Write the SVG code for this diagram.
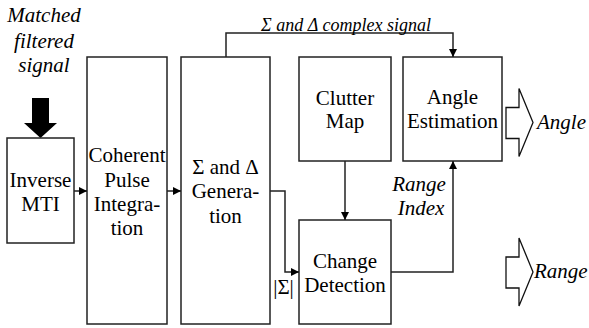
<svg xmlns="http://www.w3.org/2000/svg" width="589" height="328" viewBox="0 0 589 328">
<style>
.box{fill:#fff;stroke:#222;stroke-width:1.5}
.ln{fill:none;stroke:#222;stroke-width:1.5}
.t{font-family:'Liberation Serif','Times New Roman',serif;font-size:21px;fill:#000;text-anchor:middle}
.i{font-style:italic}
.s{text-anchor:start}
.hollow{fill:#fff;stroke:#111;stroke-width:1.3;stroke-linejoin:miter}
</style>
<defs>
<marker id="ah" viewBox="0 0 10 10" refX="10" refY="5" markerWidth="8" markerHeight="8" markerUnits="userSpaceOnUse" orient="auto">
<path d="M0,0 L10,5 L0,10 z" fill="#000"/>
</marker>
</defs>
<rect width="589" height="328" fill="#fff"/>

<g id="input-label">
<text class="t i" x="44" y="22">Matched</text>
<text class="t i" x="44" y="48">filtered</text>
<text class="t i" x="44" y="72">signal</text>
<path d="M32,98 H49 V123 H57 L40.5,138 L24,123 H32 Z" fill="#000"/>
</g>

<g id="inverse-mti">
<rect class="box" x="7" y="138" width="67" height="105"/>
<text class="t" x="40.5" y="187">Inverse</text>
<text class="t" x="40.5" y="211">MTI</text>
</g>

<g id="coherent">
<rect class="box" x="87" y="57" width="80" height="267"/>
<text class="t" x="127" y="162">Coherent</text>
<text class="t" x="127" y="187">Pulse</text>
<text class="t" x="127" y="211">Integra-</text>
<text class="t" x="127" y="235">tion</text>
</g>

<g id="sigma-delta">
<rect class="box" x="181" y="57" width="89" height="267"/>
<text class="t" x="225.5" y="174">Σ and Δ</text>
<text class="t" x="225.5" y="198">Genera-</text>
<text class="t" x="225.5" y="223">tion</text>
</g>

<g id="clutter-map">
<rect class="box" x="299" y="57" width="92" height="104"/>
<text class="t" x="345" y="105">Clutter</text>
<text class="t" x="345" y="128">Map</text>
</g>

<g id="change-detection">
<rect class="box" x="299" y="220" width="92" height="104"/>
<text class="t" x="345" y="268">Change</text>
<text class="t" x="345" y="292">Detection</text>
</g>

<g id="angle-estimation">
<rect class="box" x="403" y="57" width="99" height="104"/>
<text class="t" x="452.5" y="104">Angle</text>
<text class="t" x="452.5" y="128">Estimation</text>
</g>

<g id="outputs">
<path class="hollow" d="M506,107.5 H519 V88.5 L533,122.5 L519,156.5 V138.5 H506 Z"/>
<text class="t i s" x="537" y="129">Angle</text>
<path class="hollow" d="M506,257 H519 V238 L533,272 L519,306 V288 H506 Z"/>
<text class="t i s" x="534" y="278">Range</text>
</g>

<g id="connectors">
<line class="ln" x1="74" y1="191" x2="87" y2="191" marker-end="url(#ah)"/>
<line class="ln" x1="167" y1="191" x2="181" y2="191" marker-end="url(#ah)"/>
<polyline class="ln" points="226,57 226,33 453,33 453,57" marker-end="url(#ah)"/>
<text class="t i" x="346" y="31" style="font-size:18px">Σ and Δ complex signal</text>
<polyline class="ln" points="270,191 285,191 285,272 299,272" marker-end="url(#ah)"/>
<text class="t" x="283.5" y="294">|Σ|</text>
<line class="ln" x1="345" y1="161" x2="345" y2="220" marker-end="url(#ah)"/>
<polyline class="ln" points="391,272 453,272 453,161" marker-end="url(#ah)"/>
<text class="t i" x="419" y="191">Range</text>
<text class="t i" x="421" y="215">Index</text>
</g>
</svg>
